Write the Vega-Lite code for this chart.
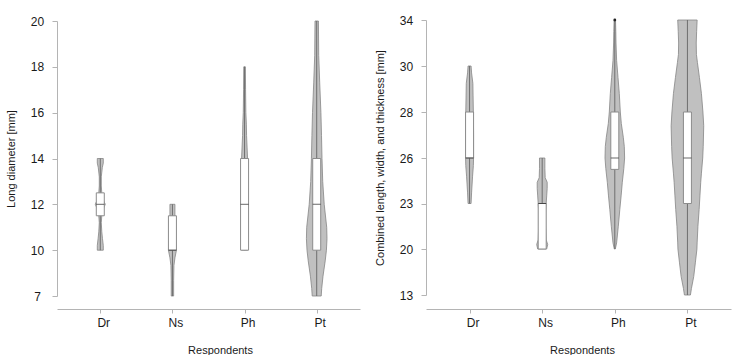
{
"$schema": "https://vega.github.io/schema/vega-lite/v6.json",
"padding": {"left": 5, "top": 7, "right": 5, "bottom": 0},
"spacing": 14,
"config": {
  "view": {"stroke": null},
  "font": "Liberation Sans",
  "axis": {"grid": false, "domainColor": "#b4b4b4", "tickColor": "#b4b4b4", "labelColor": "#1a1a1a", "titleColor": "#1a1a1a", "titleFontWeight": "normal", "titleFontSize": 11, "labelFontSize": 12},
  "axisX": {"labelAngle": 0, "tickSize": 4, "labelPadding": 4, "titlePadding": 16, "labelOffset": 3},
  "axisY": {"tickSize": 5, "labelPadding": 15, "labelAlign": "center", "titlePadding": 14}
},
"datasets": {
  "lv": [
    {"g":"Dr","y":10,"d":0.15,"o":0},{"g":"Dr","y":10.2,"d":0.15,"o":1},{"g":"Dr","y":10.5,"d":0.11,"o":2},{"g":"Dr","y":10.8,"d":0.075,"o":3},{"g":"Dr","y":11.2,"d":0.05,"o":4},{"g":"Dr","y":11.5,"d":0.075,"o":5},{"g":"Dr","y":11.8,"d":0.15,"o":6},{"g":"Dr","y":12,"d":0.25,"o":7},{"g":"Dr","y":12.2,"d":0.15,"o":8},{"g":"Dr","y":12.5,"d":0.075,"o":9},{"g":"Dr","y":12.8,"d":0.05,"o":10},{"g":"Dr","y":13.2,"d":0.05,"o":11},{"g":"Dr","y":13.6,"d":0.1,"o":12},{"g":"Dr","y":13.8,"d":0.15,"o":13},{"g":"Dr","y":14,"d":0.15,"o":14},
    {"g":"Dr","y":14,"d":-0.15,"o":15},{"g":"Dr","y":13.8,"d":-0.15,"o":16},{"g":"Dr","y":13.6,"d":-0.1,"o":17},{"g":"Dr","y":13.2,"d":-0.05,"o":18},{"g":"Dr","y":12.8,"d":-0.05,"o":19},{"g":"Dr","y":12.5,"d":-0.075,"o":20},{"g":"Dr","y":12.2,"d":-0.15,"o":21},{"g":"Dr","y":12,"d":-0.25,"o":22},{"g":"Dr","y":11.8,"d":-0.15,"o":23},{"g":"Dr","y":11.5,"d":-0.075,"o":24},{"g":"Dr","y":11.2,"d":-0.05,"o":25},{"g":"Dr","y":10.8,"d":-0.075,"o":26},{"g":"Dr","y":10.5,"d":-0.11,"o":27},{"g":"Dr","y":10.2,"d":-0.15,"o":28},{"g":"Dr","y":10,"d":-0.15,"o":29},{"g":"Dr","y":10,"d":0.15,"o":30},
    {"g":"Ns","y":7,"d":0.06,"o":0},{"g":"Ns","y":8,"d":0.06,"o":1},{"g":"Ns","y":9,"d":0.075,"o":2},{"g":"Ns","y":9.5,"d":0.125,"o":3},{"g":"Ns","y":10,"d":0.2,"o":4},{"g":"Ns","y":10.5,"d":0.15,"o":5},{"g":"Ns","y":11,"d":0.125,"o":6},{"g":"Ns","y":11.5,"d":0.125,"o":7},{"g":"Ns","y":12,"d":0.125,"o":8},
    {"g":"Ns","y":12,"d":-0.125,"o":9},{"g":"Ns","y":11.5,"d":-0.125,"o":10},{"g":"Ns","y":11,"d":-0.125,"o":11},{"g":"Ns","y":10.5,"d":-0.15,"o":12},{"g":"Ns","y":10,"d":-0.2,"o":13},{"g":"Ns","y":9.5,"d":-0.125,"o":14},{"g":"Ns","y":9,"d":-0.075,"o":15},{"g":"Ns","y":8,"d":-0.06,"o":16},{"g":"Ns","y":7,"d":-0.06,"o":17},{"g":"Ns","y":7,"d":0.06,"o":18},
    {"g":"Ph","y":10,"d":0.15,"o":0},{"g":"Ph","y":11,"d":0.175,"o":1},{"g":"Ph","y":12,"d":0.175,"o":2},{"g":"Ph","y":13,"d":0.16,"o":3},{"g":"Ph","y":14,"d":0.15,"o":4},{"g":"Ph","y":14.5,"d":0.125,"o":5},{"g":"Ph","y":15,"d":0.1,"o":6},{"g":"Ph","y":15.5,"d":0.09,"o":7},{"g":"Ph","y":16,"d":0.065,"o":8},{"g":"Ph","y":17,"d":0.05,"o":9},{"g":"Ph","y":18,"d":0.04,"o":10},
    {"g":"Ph","y":18,"d":-0.04,"o":11},{"g":"Ph","y":17,"d":-0.05,"o":12},{"g":"Ph","y":16,"d":-0.065,"o":13},{"g":"Ph","y":15.5,"d":-0.09,"o":14},{"g":"Ph","y":15,"d":-0.1,"o":15},{"g":"Ph","y":14.5,"d":-0.125,"o":16},{"g":"Ph","y":14,"d":-0.15,"o":17},{"g":"Ph","y":13,"d":-0.16,"o":18},{"g":"Ph","y":12,"d":-0.175,"o":19},{"g":"Ph","y":11,"d":-0.175,"o":20},{"g":"Ph","y":10,"d":-0.15,"o":21},{"g":"Ph","y":10,"d":0.15,"o":22},
    {"g":"Pt","y":7,"d":0.225,"o":0},{"g":"Pt","y":7.5,"d":0.25,"o":1},{"g":"Pt","y":8.3,"d":0.315,"o":2},{"g":"Pt","y":9.3,"d":0.425,"o":3},{"g":"Pt","y":10,"d":0.485,"o":4},{"g":"Pt","y":10.5,"d":0.515,"o":5},{"g":"Pt","y":11,"d":0.5,"o":6},{"g":"Pt","y":12,"d":0.375,"o":7},{"g":"Pt","y":13,"d":0.3,"o":8},{"g":"Pt","y":14,"d":0.265,"o":9},{"g":"Pt","y":15,"d":0.24,"o":10},{"g":"Pt","y":16,"d":0.21,"o":11},{"g":"Pt","y":17.3,"d":0.15,"o":12},{"g":"Pt","y":18.5,"d":0.1,"o":13},{"g":"Pt","y":20,"d":0.085,"o":14},
    {"g":"Pt","y":20,"d":-0.085,"o":15},{"g":"Pt","y":18.5,"d":-0.1,"o":16},{"g":"Pt","y":17.3,"d":-0.15,"o":17},{"g":"Pt","y":16,"d":-0.21,"o":18},{"g":"Pt","y":15,"d":-0.24,"o":19},{"g":"Pt","y":14,"d":-0.265,"o":20},{"g":"Pt","y":13,"d":-0.3,"o":21},{"g":"Pt","y":12,"d":-0.375,"o":22},{"g":"Pt","y":11,"d":-0.5,"o":23},{"g":"Pt","y":10.5,"d":-0.515,"o":24},{"g":"Pt","y":10,"d":-0.485,"o":25},{"g":"Pt","y":9.3,"d":-0.425,"o":26},{"g":"Pt","y":8.3,"d":-0.315,"o":27},{"g":"Pt","y":7.5,"d":-0.25,"o":28},{"g":"Pt","y":7,"d":-0.225,"o":29},{"g":"Pt","y":7,"d":0.225,"o":30}
  ],
  "rv": [
    {"g":"Dr","y":23,"d":0.075,"o":0},{"g":"Dr","y":23.7,"d":0.1,"o":1},{"g":"Dr","y":24.8,"d":0.15,"o":2},{"g":"Dr","y":25.5,"d":0.19,"o":3},{"g":"Dr","y":26,"d":0.2,"o":4},{"g":"Dr","y":27,"d":0.2,"o":5},{"g":"Dr","y":28,"d":0.19,"o":6},{"g":"Dr","y":28.7,"d":0.175,"o":7},{"g":"Dr","y":29.25,"d":0.165,"o":8},{"g":"Dr","y":29.7,"d":0.1,"o":9},{"g":"Dr","y":30,"d":0.075,"o":10},
    {"g":"Dr","y":30,"d":-0.075,"o":11},{"g":"Dr","y":29.7,"d":-0.1,"o":12},{"g":"Dr","y":29.25,"d":-0.165,"o":13},{"g":"Dr","y":28.7,"d":-0.175,"o":14},{"g":"Dr","y":28,"d":-0.19,"o":15},{"g":"Dr","y":27,"d":-0.2,"o":16},{"g":"Dr","y":26,"d":-0.2,"o":17},{"g":"Dr","y":25.5,"d":-0.19,"o":18},{"g":"Dr","y":24.8,"d":-0.15,"o":19},{"g":"Dr","y":23.7,"d":-0.1,"o":20},{"g":"Dr","y":23,"d":-0.075,"o":21},{"g":"Dr","y":23,"d":0.075,"o":22},
    {"g":"Ns","y":20,"d":0.225,"o":0},{"g":"Ns","y":20.3,"d":0.275,"o":1},{"g":"Ns","y":20.6,"d":0.2,"o":2},{"g":"Ns","y":21.5,"d":0.175,"o":3},{"g":"Ns","y":22.5,"d":0.175,"o":4},{"g":"Ns","y":23,"d":0.2,"o":5},{"g":"Ns","y":23.5,"d":0.225,"o":6},{"g":"Ns","y":24,"d":0.25,"o":7},{"g":"Ns","y":24.4,"d":0.25,"o":8},{"g":"Ns","y":24.7,"d":0.15,"o":9},{"g":"Ns","y":25.3,"d":0.135,"o":10},{"g":"Ns","y":26,"d":0.135,"o":11},
    {"g":"Ns","y":26,"d":-0.135,"o":12},{"g":"Ns","y":25.3,"d":-0.135,"o":13},{"g":"Ns","y":24.7,"d":-0.15,"o":14},{"g":"Ns","y":24.4,"d":-0.25,"o":15},{"g":"Ns","y":24,"d":-0.25,"o":16},{"g":"Ns","y":23.5,"d":-0.225,"o":17},{"g":"Ns","y":23,"d":-0.2,"o":18},{"g":"Ns","y":22.5,"d":-0.175,"o":19},{"g":"Ns","y":21.5,"d":-0.175,"o":20},{"g":"Ns","y":20.6,"d":-0.2,"o":21},{"g":"Ns","y":20.3,"d":-0.275,"o":22},{"g":"Ns","y":20,"d":-0.225,"o":23},{"g":"Ns","y":20,"d":0.225,"o":24},
    {"g":"Ph","y":20,"d":0.025,"o":0},{"g":"Ph","y":20.4,"d":0.09,"o":1},{"g":"Ph","y":21.5,"d":0.175,"o":2},{"g":"Ph","y":22.6,"d":0.25,"o":3},{"g":"Ph","y":23.5,"d":0.315,"o":4},{"g":"Ph","y":24.4,"d":0.375,"o":5},{"g":"Ph","y":25.3,"d":0.45,"o":6},{"g":"Ph","y":26,"d":0.49,"o":7},{"g":"Ph","y":26.5,"d":0.475,"o":8},{"g":"Ph","y":26.9,"d":0.425,"o":9},{"g":"Ph","y":27.5,"d":0.325,"o":10},{"g":"Ph","y":28,"d":0.275,"o":11},{"g":"Ph","y":28.8,"d":0.225,"o":12},{"g":"Ph","y":29.5,"d":0.16,"o":13},{"g":"Ph","y":30.5,"d":0.09,"o":14},{"g":"Ph","y":32,"d":0.06,"o":15},{"g":"Ph","y":33,"d":0.05,"o":16},{"g":"Ph","y":34,"d":0.035,"o":17},
    {"g":"Ph","y":34,"d":-0.035,"o":18},{"g":"Ph","y":33,"d":-0.05,"o":19},{"g":"Ph","y":32,"d":-0.06,"o":20},{"g":"Ph","y":30.5,"d":-0.09,"o":21},{"g":"Ph","y":29.5,"d":-0.16,"o":22},{"g":"Ph","y":28.8,"d":-0.225,"o":23},{"g":"Ph","y":28,"d":-0.275,"o":24},{"g":"Ph","y":27.5,"d":-0.325,"o":25},{"g":"Ph","y":26.9,"d":-0.425,"o":26},{"g":"Ph","y":26.5,"d":-0.475,"o":27},{"g":"Ph","y":26,"d":-0.49,"o":28},{"g":"Ph","y":25.3,"d":-0.45,"o":29},{"g":"Ph","y":24.4,"d":-0.375,"o":30},{"g":"Ph","y":23.5,"d":-0.315,"o":31},{"g":"Ph","y":22.6,"d":-0.25,"o":32},{"g":"Ph","y":21.5,"d":-0.175,"o":33},{"g":"Ph","y":20.4,"d":-0.09,"o":34},{"g":"Ph","y":20,"d":-0.025,"o":35},{"g":"Ph","y":20,"d":0.025,"o":36},
    {"g":"Pt","y":13,"d":0.15,"o":0},{"g":"Pt","y":14,"d":0.2,"o":1},{"g":"Pt","y":15.8,"d":0.315,"o":2},{"g":"Pt","y":18,"d":0.4,"o":3},{"g":"Pt","y":20,"d":0.475,"o":4},{"g":"Pt","y":20.4,"d":0.485,"o":5},{"g":"Pt","y":21.5,"d":0.525,"o":6},{"g":"Pt","y":22.6,"d":0.585,"o":7},{"g":"Pt","y":23.5,"d":0.625,"o":8},{"g":"Pt","y":24.4,"d":0.665,"o":9},{"g":"Pt","y":25,"d":0.7,"o":10},{"g":"Pt","y":26,"d":0.765,"o":11},{"g":"Pt","y":26.5,"d":0.79,"o":12},{"g":"Pt","y":27.4,"d":0.815,"o":13},{"g":"Pt","y":28,"d":0.775,"o":14},{"g":"Pt","y":28.8,"d":0.7,"o":15},{"g":"Pt","y":29.5,"d":0.6,"o":16},{"g":"Pt","y":30.3,"d":0.5,"o":17},{"g":"Pt","y":31,"d":0.45,"o":18},{"g":"Pt","y":32,"d":0.44,"o":19},{"g":"Pt","y":33,"d":0.46,"o":20},{"g":"Pt","y":34,"d":0.485,"o":21},
    {"g":"Pt","y":34,"d":-0.485,"o":22},{"g":"Pt","y":33,"d":-0.46,"o":23},{"g":"Pt","y":32,"d":-0.44,"o":24},{"g":"Pt","y":31,"d":-0.45,"o":25},{"g":"Pt","y":30.3,"d":-0.5,"o":26},{"g":"Pt","y":29.5,"d":-0.6,"o":27},{"g":"Pt","y":28.8,"d":-0.7,"o":28},{"g":"Pt","y":28,"d":-0.775,"o":29},{"g":"Pt","y":27.4,"d":-0.815,"o":30},{"g":"Pt","y":26.5,"d":-0.79,"o":31},{"g":"Pt","y":26,"d":-0.765,"o":32},{"g":"Pt","y":25,"d":-0.7,"o":33},{"g":"Pt","y":24.4,"d":-0.665,"o":34},{"g":"Pt","y":23.5,"d":-0.625,"o":35},{"g":"Pt","y":22.6,"d":-0.585,"o":36},{"g":"Pt","y":21.5,"d":-0.525,"o":37},{"g":"Pt","y":20.4,"d":-0.485,"o":38},{"g":"Pt","y":20,"d":-0.475,"o":39},{"g":"Pt","y":18,"d":-0.4,"o":40},{"g":"Pt","y":15.8,"d":-0.315,"o":41},{"g":"Pt","y":14,"d":-0.2,"o":42},{"g":"Pt","y":13,"d":-0.15,"o":43},{"g":"Pt","y":13,"d":0.15,"o":44}
  ],
  "lb": [
    {"g":"Dr","min":10,"q1":11.5,"med":12,"q3":12.5,"max":14},
    {"g":"Ns","min":7,"q1":10,"med":10,"q3":11.5,"max":12},
    {"g":"Ph","min":10,"q1":10,"med":12,"q3":14,"max":18},
    {"g":"Pt","min":7,"q1":10,"med":12,"q3":14,"max":20}
  ],
  "rb": [
    {"g":"Dr","min":23,"q1":26,"med":26,"q3":28,"max":30},
    {"g":"Ns","min":20,"q1":20,"med":23,"q3":23,"max":26},
    {"g":"Ph","min":20,"q1":25.25,"med":26,"q3":28,"max":34},
    {"g":"Pt","min":13,"q1":23,"med":26,"q3":28,"max":34}
  ],
  "ro": [{"g":"Ph","y":34}]
},
"hconcat": [
  {
    "width": 303, "height": 302,
    "layer": [
      {
        "data": {"name": "lv"},
        "mark": {"type": "line", "fill": "#c0c0c0", "stroke": "#858585", "strokeWidth": 0.8},
        "encoding": {
          "x": {"field": "g", "type": "nominal", "title": "Respondents", "scale": {"type": "point", "domain": ["Dr","Ns","Ph","Pt"], "padding": 0.6}, "axis": {"titleX": 163}},
          "xOffset": {"field": "d", "type": "quantitative", "scale": {"domain": [-1, 1], "range": [-20, 20]}},
          "y": {"field": "y", "type": "quantitative", "title": "Long diameter [mm]", "scale": {"domain": [7,10,12,14,16,18,20], "range": [289,243.2,197.3,151.5,105.7,59.8,14], "nice": false, "zero": false}, "axis": {"values": [7,10,12,14,16,18,20]}},
          "detail": {"field": "g"},
          "order": {"field": "o", "type": "quantitative"}
        }
      },
      {
        "data": {"name": "lb"},
        "mark": {"type": "rule", "color": "#6e6e6e", "strokeWidth": 1},
        "encoding": {"x": {"field": "g", "type": "nominal"}, "y": {"field": "min", "type": "quantitative"}, "y2": {"field": "max"}}
      },
      {
        "data": {"name": "lb"},
        "mark": {"type": "bar", "width": 8, "fill": "#ffffff", "stroke": "#8c8c8c", "strokeWidth": 1},
        "encoding": {"x": {"field": "g", "type": "nominal"}, "y": {"field": "q1", "type": "quantitative"}, "y2": {"field": "q3"}}
      },
      {
        "data": {"name": "lb"},
        "mark": {"type": "tick", "size": 8, "thickness": 1, "color": "#2a2a2a"},
        "encoding": {"x": {"field": "g", "type": "nominal"}, "y": {"field": "med", "type": "quantitative"}}
      }
    ]
  },
  {
    "width": 305, "height": 302,
    "layer": [
      {
        "data": {"name": "rv"},
        "mark": {"type": "line", "fill": "#c0c0c0", "stroke": "#858585", "strokeWidth": 0.8},
        "encoding": {
          "x": {"field": "g", "type": "nominal", "title": "Respondents", "scale": {"type": "point", "domain": ["Dr","Ns","Ph","Pt"], "padding": 0.6}, "axis": {"titleX": 156}},
          "xOffset": {"field": "d", "type": "quantitative", "scale": {"domain": [-1, 1], "range": [-20, 20]}},
          "y": {"field": "y", "type": "quantitative", "title": "Combined length, width, and thickness [mm]", "scale": {"domain": [13,20,23,26,28,30,34], "range": [288,242,196.5,151,105,59,13], "nice": false, "zero": false}, "axis": {"values": [13,20,23,26,28,30,34]}},
          "detail": {"field": "g"},
          "order": {"field": "o", "type": "quantitative"}
        }
      },
      {
        "data": {"name": "rb"},
        "mark": {"type": "rule", "color": "#6e6e6e", "strokeWidth": 1},
        "encoding": {"x": {"field": "g", "type": "nominal"}, "y": {"field": "min", "type": "quantitative"}, "y2": {"field": "max"}}
      },
      {
        "data": {"name": "rb"},
        "mark": {"type": "bar", "width": 8, "fill": "#ffffff", "stroke": "#8c8c8c", "strokeWidth": 1},
        "encoding": {"x": {"field": "g", "type": "nominal"}, "y": {"field": "q1", "type": "quantitative"}, "y2": {"field": "q3"}}
      },
      {
        "data": {"name": "rb"},
        "mark": {"type": "tick", "size": 8, "thickness": 1, "color": "#2a2a2a"},
        "encoding": {"x": {"field": "g", "type": "nominal"}, "y": {"field": "med", "type": "quantitative"}}
      },
      {
        "data": {"name": "ro"},
        "mark": {"type": "point", "filled": true, "size": 8, "color": "#222222", "opacity": 1},
        "encoding": {"x": {"field": "g", "type": "nominal"}, "y": {"field": "y", "type": "quantitative"}}
      }
    ]
  }
]
}
